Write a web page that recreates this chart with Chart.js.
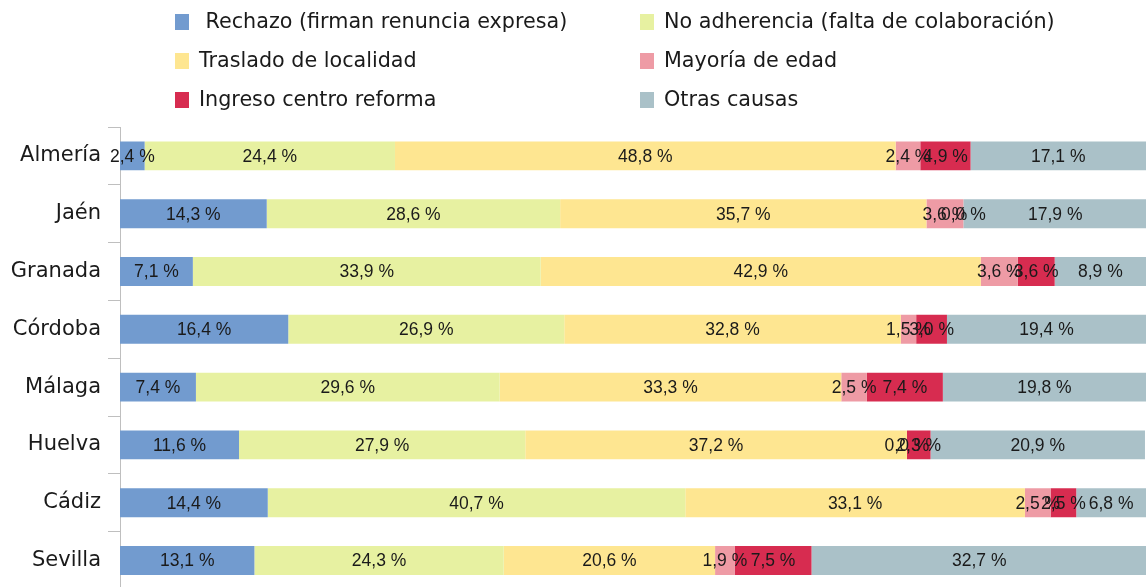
<!DOCTYPE html>
<html>
<head>
<meta charset="utf-8">
<script src="https://cdn.jsdelivr.net/npm/chart.js@4"></script>
<style>
  html, body { margin: 0; padding: 0; background: #fff; overflow: hidden; }
  #wrap { position: relative; width: 1146px; height: 609px; }
</style>
</head>
<body>
<div id="wrap"><canvas id="chart"></canvas></div>
<script>
const categories = ['Almería', 'Jaén', 'Granada', 'Córdoba', 'Málaga', 'Huelva', 'Cádiz', 'Sevilla'];
const seriesNames = [' Rechazo (firman renuncia expresa)', 'No adherencia (falta de colaboración)', 'Traslado de localidad', 'Mayoría de edad', 'Ingreso centro reforma', 'Otras causas'];
const rechazo = [2.4, 14.3, 7.1, 16.4, 7.4, 11.6, 14.4, 13.1];
const noAdherencia = [24.4, 28.6, 33.9, 26.9, 29.6, 27.9, 40.7, 24.3];
const traslado = [48.8, 35.7, 42.9, 32.8, 33.3, 37.2, 33.1, 20.6];
const mayoriaEdad = [2.4, 3.6, 3.6, 1.5, 2.5, 0.0, 2.5, 1.9];
const ingresoReforma = [4.9, 0.0, 3.6, 3.0, 7.4, 2.3, 2.5, 7.5];
const otrasCausas = [17.1, 17.9, 8.9, 19.4, 19.8, 20.9, 6.8, 32.7];

const colors = ['#729bcf', '#e7f1a1', '#fee691', '#ee9ba5', '#d72c50', '#aac1c8'];
const values = [rechazo, noAdherencia, traslado, mayoriaEdad, ingresoReforma, otrasCausas];

const fmt = v => v.toFixed(1).replace('.', ',') + ' %';

// labels centred in each segment, like the spreadsheet
const segmentLabels = {
    id: 'segmentLabels',
    afterDatasetsDraw(chart) {
        const ctx = chart.ctx;
        ctx.save();
        ctx.font = '17.5px "Liberation Sans", sans-serif';
        ctx.fillStyle = '#1a1a1a';
        ctx.textAlign = 'center';
        ctx.textBaseline = 'middle';
        chart.data.datasets.forEach((ds, i) => {
            chart.getDatasetMeta(i).data.forEach((bar, j) => {
                const cx = (bar.x + bar.base) / 2;
                ctx.fillText(fmt(ds.data[j]), cx, bar.y + 1);
            });
        });
        ctx.restore();
    }
};

// two-column legend at the top
const gridLegend = {
    id: 'gridLegend',
    afterDraw(chart) {
        const ctx = chart.ctx;
        const cols = [175, 640];
        const rows = [22, 61, 100];
        ctx.save();
        ctx.font = '20.7px "DejaVu Sans", sans-serif';
        ctx.textBaseline = 'middle';
        ctx.textAlign = 'left';
        chart.data.datasets.forEach((ds, i) => {
            const x = cols[i % 2];
            const y = rows[Math.floor(i / 2)];
            ctx.fillStyle = ds.backgroundColor;
            ctx.fillRect(x, y - 8, 14, 16);
            ctx.fillStyle = '#1a1a1a';
            ctx.fillText(ds.label, x + 24, y + 1);
        });
        ctx.restore();
    }
};

new Chart(document.getElementById('chart'), {
    type: 'bar',
    data: {
        labels: categories,
        datasets: values.map((d, i) => ({
            label: seriesNames[i],
            data: d,
            backgroundColor: colors[i],
            borderWidth: 0,
            categoryPercentage: 1,
            barPercentage: 0.5
        }))
    },
    options: {
        indexAxis: 'y',
        responsive: true,
        maintainAspectRatio: false,
        animation: false,
        layout: { padding: { top: 127, left: 0, right: 0, bottom: 0 } },
        plugins: {
            legend: { display: false },
            tooltip: { enabled: false }
        },
        scales: {
            x: {
                stacked: true,
                min: 0,
                max: 100,
                display: false
            },
            y: {
                stacked: true,
                offset: true,
                afterFit: scale => { scale.width = 120; },
                grid: { offset: true, drawOnChartArea: false, tickLength: 12, color: '#bfbfbf' },
                border: { color: '#bfbfbf' },
                ticks: { color: '#1a1a1a', padding: 7, font: { family: 'DejaVu Sans', size: 21 } }
            }
        }
    },
    plugins: [segmentLabels, gridLegend]
});
</script>
</body>
</html>
